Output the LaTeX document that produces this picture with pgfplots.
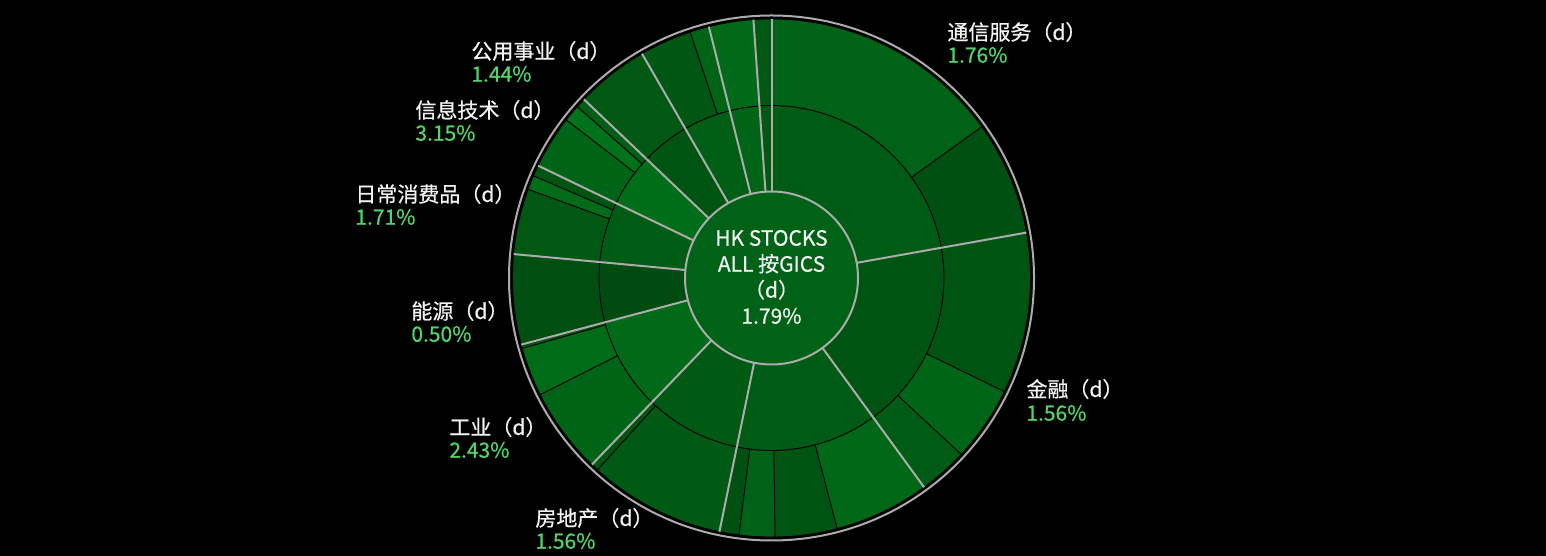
\documentclass[border=0pt]{standalone}
\usepackage{fontspec}
\setmainfont{Noto Sans CJK SC}[FakeBold=0.6]
\usepackage{pgfplots}
\usepackage{pgfplotstable}
\pgfplotsset{compat=1.18}

\definecolor{rimgray}{RGB}{172,172,172}
\definecolor{valgreen}{RGB}{80,214,104}
\definecolor{txtwhite}{RGB}{242,242,242}
\definecolor{hubgreen}{RGB}{0,98,22}

\tikzset{
  catname/.style={anchor=west, text=txtwhite, inner sep=0pt,
    font=\fontsize{10.5pt}{11.5pt}\selectfont},
  catval/.style={anchor=west, text=valgreen, inner sep=0pt,
    font=\fontsize{10.5pt}{11.5pt}\selectfont},
}

% ring radii (axis units)
\def\rHub{86.5}
\def\rMid{172.5}
\def\rOut{259}

% inner ring: GICS sectors, angles in degrees counter-clockwise from east
\pgfplotstableread{
from   to     G    B
10.1   90     92   20
90     94     88   19
94     104    100  22
104    120    94   21
120    136.4  84   18
136.4  154.3  110  25
154.3  174.7  92   20
174.7  194.9  75   15
194.9  226.1  106  24
226.1  258.4  90   20
258.4  306.1  92   20
306.1  370.1  84   18
}\sectors

% outer ring: industries inside each sector
\pgfplotstableread{
from   to     G    B
35.7   90     98   22
10.1   35.7   80   17
90     94     88   19
94     104    106  24
104    108.3  100  22
108.3  120    86   19
120    136.4  88   19
136.4  138.6  94   21
138.6  142.4  114  26
142.4  154.3  100  22
154.3  156.8  84   18
156.8  160    108  24
160    174.7  88   19
174.7  194.9  78   16
194.9  195.8  84   18
195.8  206.8  108  24
206.8  226.1  100  22
226.1  227.8  84   18
227.8  258.4  90   20
258.4  262.8  80   17
262.8  270.8  98   22
270.8  284.7  84   18
284.7  306.1  104  23
306.1  317.1  92   20
317.1  334    102  23
334    370.1  84   18
}\industries

% annular wedge: #1 from, #2 to, #3 inner radius, #4 outer radius, #5/#6 green/blue
\newcommand\ringwedge[6]{%
  \filldraw[draw=black, line width=0.4pt, line join=round,
    fill={rgb,255:red,0;green,#5;blue,#6}]
    (axis cs:{#3*cos(#1)},{#3*sin(#1)})
    arc[start angle=#1, end angle=#2, radius={#3*0.5pt}]
    -- (axis cs:{#4*cos(#2)},{#4*sin(#2)})
    arc[start angle=#2, end angle=#1, radius={#4*0.5pt}]
    -- cycle;}

% one wedge per table row
\newcommand\drawring[3]{%
  \pgfplotstablegetrowsof{#1}%
  \pgfmathtruncatemacro\lastrow{\pgfplotsretval-1}%
  \pgfplotsforeachungrouped \i in {0,...,\lastrow}{%
    \pgfplotstablegetelem{\i}{from}\of#1\let\wfrom\pgfplotsretval
    \pgfplotstablegetelem{\i}{to}\of#1\let\wto\pgfplotsretval
    \pgfplotstablegetelem{\i}{G}\of#1\let\wg\pgfplotsretval
    \pgfplotstablegetelem{\i}{B}\of#1\let\wb\pgfplotsretval
    \edef\cmd{\noexpand\ringwedge{\wfrom}{\wto}{#2}{#3}{\wg}{\wb}}%
    \cmd
  }}

% gray separators between sectors
\newcommand\drawspokes[1]{%
  \pgfplotstablegetrowsof{#1}%
  \pgfmathtruncatemacro\lastrow{\pgfplotsretval-1}%
  \pgfplotsforeachungrouped \i in {0,...,\lastrow}{%
    \pgfplotstablegetelem{\i}{from}\of#1\let\wfrom\pgfplotsretval
    \edef\cmd{\noexpand\draw[rimgray, line width=1pt]
      (axis cs:{\rHub*cos(\wfrom)},{\rHub*sin(\wfrom)}) --
      (axis cs:{\rOut*cos(\wfrom)},{\rOut*sin(\wfrom)});}%
    \cmd
  }}

\begin{document}
\begin{tikzpicture}
\begin{axis}[
  x=0.5pt, y=0.5pt,
  xmin=-771.5, xmax=774.5, ymin=-278, ymax=278,
  hide axis, clip=false, scale only axis,
]
\fill[black] (axis cs:-771.5,-278) rectangle (axis cs:774.5,278);

\drawring{\sectors}{\rHub}{\rMid}
\drawring{\industries}{\rMid}{\rOut}
\drawspokes{\sectors}

\filldraw[fill=hubgreen, draw=rimgray, line width=1pt]
  (axis cs:0,0) circle[radius=43.25pt];
\draw[rimgray, line width=1pt] (axis cs:0,0) circle[radius=131.25pt];

\node[text=txtwhite, align=center, inner sep=0pt,
  font=\fontsize{10.5pt}{13pt}\selectfont] at (axis cs:0,1)
  {HK STOCKS\\ALL 按GICS\\（d）\\1.79\%};

\node[catname] at (axis cs:175.5,246) {通信服务（d）};
\node[catval]  at (axis cs:175.5,223) {1.76\%};
\node[catname] at (axis cs:254.5,-111) {金融（d）};
\node[catval]  at (axis cs:254.5,-135) {1.56\%};
\node[catname] at (axis cs:-300.5,227) {公用事业（d）};
\node[catval]  at (axis cs:-300.5,204) {1.44\%};
\node[catname] at (axis cs:-356.5,168) {信息技术（d）};
\node[catval]  at (axis cs:-356.5,145) {3.15\%};
\node[catname] at (axis cs:-416.5,84) {日常消费品（d）};
\node[catval]  at (axis cs:-416.5,61) {1.71\%};
\node[catname] at (axis cs:-360.5,-33) {能源（d）};
\node[catval]  at (axis cs:-360.5,-56) {0.50\%};
\node[catname] at (axis cs:-322.5,-149) {工业（d）};
\node[catval]  at (axis cs:-322.5,-172) {2.43\%};
\node[catname] at (axis cs:-236.5,-240) {房地产（d）};
\node[catval]  at (axis cs:-236.5,-263) {1.56\%};
\end{axis}
\end{tikzpicture}
\end{document}
